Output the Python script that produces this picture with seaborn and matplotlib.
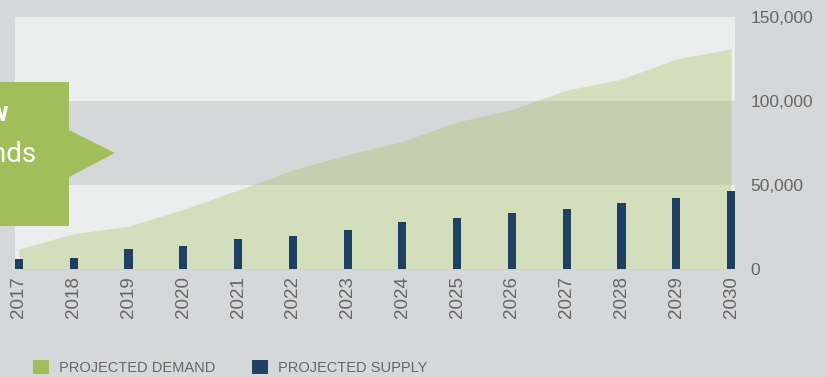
import matplotlib
matplotlib.use("Agg")
import matplotlib.pyplot as plt
import matplotlib.patches as mpatches
import seaborn as sns
import numpy as np
import pandas as pd

years = ["2017", "2018", "2019", "2020", "2021", "2022", "2023",
         "2024", "2025", "2026", "2027", "2028", "2029", "2030"]
demand = [12000, 21000, 25500, 35500, 47000, 59000, 68000,
          76000, 87500, 95000, 106500, 113000, 125000, 131000]
supply = [5800, 6700, 11700, 13700, 17700, 19500, 23200,
          28000, 30400, 33300, 35700, 39300, 42300, 46600]
y_ticks = [0, 50000, 100000, 150000]
legend_labels = ["PROJECTED DEMAND", "PROJECTED SUPPLY"]

BG = "#d6d7d9"
LIGHT = "#eceeed"
GREEN = "#a0bf5a"
NAVY = "#1f3f63"
TXT = "#666666"

sns.set_theme(style="white")
plt.rcParams["font.family"] = ["Liberation Sans", "DejaVu Sans"]

fig = plt.figure(figsize=(8.28, 3.77), dpi=100, facecolor=BG)
ax = fig.add_axes([15 / 828, 1 - 269 / 377, 720 / 828, 252 / 377])
ax.set_facecolor(BG)

ax.axhspan(0, 50000, color=LIGHT, zorder=0, lw=0)
ax.axhspan(100000, 150000, color=LIGHT, zorder=0, lw=0)

df = pd.DataFrame({"year": years, "demand": demand, "supply": supply})
pos = np.arange(len(years))
ax.fill_between(pos, df["demand"], 0, color=GREEN, alpha=0.33, lw=0, zorder=1)
sns.barplot(data=df, x="year", y="supply", color=NAVY, width=0.15,
            saturation=1, linewidth=0, edgecolor="none", ax=ax, zorder=2)

ax.set_xlim(-0.073, 13.073)
ax.set_ylim(0, 150000)
for s in ax.spines.values():
    s.set_visible(False)
ax.set_xlabel("")
ax.set_ylabel("")
ax.yaxis.tick_right()
ax.set_yticks(y_ticks)
ax.set_yticklabels([f"{v:,}" for v in y_ticks])
ax.tick_params(axis="y", length=0, pad=11, labelsize=12.5, labelcolor=TXT)
ax.tick_params(axis="x", length=0, pad=5, labelsize=13.5, labelcolor=TXT,
               labelrotation=90)
ax.grid(False)

# callout box (partially cut off at left, as in the reference)
fig.patches.append(mpatches.Polygon(
    [(-0.01, 1 - 82 / 377), (69 / 828, 1 - 82 / 377), (69 / 828, 1 - 130 / 377),
     (115 / 828, 1 - 153 / 377), (69 / 828, 1 - 177 / 377), (69 / 828, 1 - 226 / 377),
     (-0.01, 1 - 226 / 377)],
    closed=True, transform=fig.transFigure, facecolor=GREEN, edgecolor="none",
    zorder=5))
fig.text(9 / 828, 1 - 114 / 377, "Now", ha="right", va="center", color="white",
         fontsize=20, fontweight="bold", family="Roboto", zorder=6)
fig.text(37 / 828, 1 - 155 / 377, "trends", ha="right", va="center",
         color="white", fontsize=20, family="Roboto", zorder=6)

handles = [mpatches.Patch(facecolor=GREEN, edgecolor="none"),
           mpatches.Patch(facecolor=NAVY, edgecolor="none")]
leg = fig.legend(handles, legend_labels, loc="lower left",
                 bbox_to_anchor=(20 / 828, -0.03), ncol=2, frameon=False,
                 fontsize=10.5, handlelength=1.1, handleheight=1.1,
                 handletextpad=0.7, columnspacing=2.5)
for t in leg.get_texts():
    t.set_color(TXT)

fig.savefig("out.png", dpi=100, facecolor=BG)
